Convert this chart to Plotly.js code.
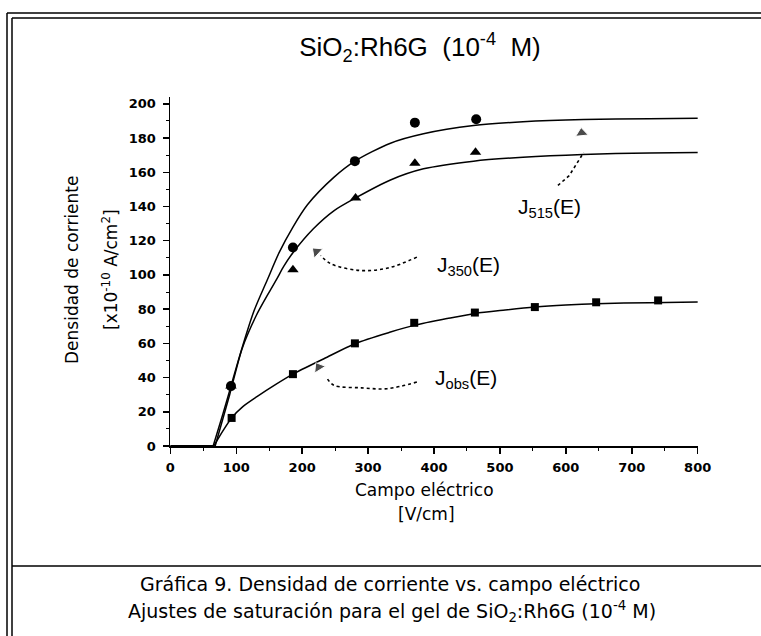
<!DOCTYPE html>
<html>
<head>
<meta charset="utf-8">
<script src="https://cdn.plot.ly/plotly-3.0.1.min.js"></script>
<style>
  html, body { margin: 0; padding: 0; background: #fff; }
  #chart { width: 761px; height: 636px; }
</style>
</head>
<body>
<div id="chart"></div>
<script>
// ---- measured points ----
const circX = [92, 186, 280, 371, 464];
const circY = [35, 116, 166.5, 189, 191];
const triX = [92, 186, 281, 371, 463];
const triY = [35, 103, 145, 165.3, 171.7];
const sqX = [93, 186, 280, 370, 462, 553, 646, 740];
const sqY = [16.4, 42, 60, 72, 78, 81.2, 84, 85.1];

// ---- saturation fit curves ----
const baseX = [0, 66];
const baseY = [0, 0];
const fitCircX = [65, 80, 92, 107, 127, 147, 165, 186, 208, 248, 280, 334, 384, 460, 535, 627, 727, 800];
const fitCircY = [0, 19, 35, 55, 79, 97, 113, 128, 141, 157, 166.5, 177, 182.5, 187.3, 189.5, 190.8, 191.3, 191.6];
const fitTriX = [68, 90, 109, 130, 150, 162, 172, 186, 217, 248, 281, 334, 384, 460, 535, 626, 727, 800];
const fitTriY = [0, 30, 57, 76, 90, 98, 105, 113, 127, 137.5, 145, 155.5, 162, 166.5, 168.8, 170.4, 171.3, 171.6];
const fitSqX = [66, 80, 93, 110, 132, 160, 186, 233, 280, 334, 370, 420, 462, 508, 553, 600, 646, 727, 800];
const fitSqY = [0, 9, 16.4, 23, 29, 36, 42, 51, 59.8, 66.6, 70.5, 74.5, 77.5, 79.5, 81.2, 82.4, 83.2, 83.8, 84.1];

// ---- dotted leaders of the labels and their arrow heads ----
const j350LeadX = [374, 330, 288, 243, 228];
const j350LeadY = [110.4, 104, 102.6, 106.6, 111.4];
const jobsLeadX = [374, 329, 290, 248, 238];
const jobsLeadY = [37.4, 33.5, 34, 35.5, 39.4];
const j515LeadX = [588, 605, 627];
const j515LeadY = [152.3, 158, 171.5];
const j350HeadX = [229, 221.6], j350HeadY = [111, 113.6];
const jobsHeadX = [233, 225], jobsHeadY = [41, 46];
const j515HeadX = [627, 624], j515HeadY = [172, 183];

// ---- tick labels ----
const xTicks = [0, 100, 200, 300, 400, 500, 600, 700, 800];
const yTicks = [0, 20, 40, 60, 80, 100, 120, 140, 160, 180, 200];

const black = '#000';
const lineStyle = {color: black, width: 1.5};
const leadStyle = {color: black, width: 1.6, dash: 'dot'};
const head = {symbol: 'triangle-up', angleref: 'previous', size: [0, 11], color: black};

const traces = [
  {x: baseX, y: baseY, mode: 'lines', line: {color: black, width: 2}},
  {x: fitCircX, y: fitCircY, mode: 'lines', line: Object.assign({shape: 'spline', smoothing: 0.8}, lineStyle)},
  {x: fitTriX, y: fitTriY, mode: 'lines', line: Object.assign({shape: 'spline', smoothing: 0.8}, lineStyle)},
  {x: fitSqX, y: fitSqY, mode: 'lines', line: Object.assign({shape: 'spline', smoothing: 0.8}, lineStyle)},
  {x: circX, y: circY, mode: 'markers', marker: {symbol: 'circle', size: 10, color: black}},
  {x: triX, y: triY, mode: 'markers', marker: {symbol: 'triangle-up', size: 10, color: black}},
  {x: sqX, y: sqY, mode: 'markers', marker: {symbol: 'square', size: 8, color: black}},
  {x: j350LeadX, y: j350LeadY, mode: 'lines', line: Object.assign({shape: 'spline'}, leadStyle)},
  {x: jobsLeadX, y: jobsLeadY, mode: 'lines', line: Object.assign({shape: 'spline'}, leadStyle)},
  {x: j515LeadX, y: j515LeadY, mode: 'lines', line: leadStyle},
  {x: j350HeadX, y: j350HeadY, mode: 'markers', marker: head},
  {x: jobsHeadX, y: jobsHeadY, mode: 'markers', marker: head},
  {x: j515HeadX, y: j515HeadY, mode: 'markers', marker: head}
];

const L = 170, T = 97, W = 528, H = 349;
const px = v => (v - L) / W;          // pixel x -> paper x
const py = v => (T + H - v) / H;      // pixel y -> paper y

const axisFont = {family: 'DejaVu Sans', size: 17, color: black};
const tickFont = {family: 'DejaVu Sans', size: 13, color: black, weight: 'bold'};
const labFont = {family: 'Liberation Sans, Arial, sans-serif', size: 21, color: black};
const capFont = {family: 'DejaVu Sans', size: 19, color: black};

function paperText(x, y, text, font, angle) {
  return {xref: 'paper', yref: 'paper', x: px(x), y: py(y), xanchor: 'center', yanchor: 'middle',
          text: text, textangle: angle || 0, showarrow: false, font: font};
}

const annotations = [
  paperText(72, 270, 'Densidad de corriente', axisFont, -90),
  paperText(110, 270, '[x10<sup>-10</sup> A/cm<sup>2</sup>]', axisFont, -90),
  paperText(424, 490, 'Campo eléctrico', axisFont),
  paperText(426, 514, '[V/cm]', axisFont),
  paperText(390, 584, 'Gráfica 9. Densidad de corriente vs. campo eléctrico', capFont),
  paperText(392, 611, 'Ajustes de saturación para el gel de SiO<sub>2</sub>:Rh6G (10<sup>-4</sup> M)', capFont),
  {x: 524, y: 139.4, xanchor: 'left', yanchor: 'middle', text: 'J<sub>515</sub>(E)', showarrow: false, font: labFont},
  {x: 401, y: 105.4, xanchor: 'left', yanchor: 'middle', text: 'J<sub>350</sub>(E)', showarrow: false, font: labFont},
  {x: 398, y: 39, xanchor: 'left', yanchor: 'middle', text: 'J<sub>obs</sub>(E)', showarrow: false, font: labFont}
];

const frameLine = {color: black, width: 1.5};
const shapes = [
  {type: 'line', xref: 'paper', yref: 'paper', x0: px(7), x1: px(7), y0: py(13), y1: py(636), line: frameLine},
  {type: 'line', xref: 'paper', yref: 'paper', x0: px(12), x1: px(12), y0: py(18), y1: py(636), line: frameLine},
  {type: 'line', xref: 'paper', yref: 'paper', x0: px(7), x1: px(761), y0: py(13), y1: py(13), line: frameLine},
  {type: 'line', xref: 'paper', yref: 'paper', x0: px(12), x1: px(761), y0: py(18), y1: py(18), line: frameLine},
  {type: 'line', xref: 'paper', yref: 'paper', x0: px(12), x1: px(761), y0: py(566), y1: py(566), line: frameLine}
];

const layout = {
  width: 761, height: 636,
  margin: {l: L, r: 761 - L - W, t: T, b: 636 - T - H, pad: 0},
  paper_bgcolor: '#fff', plot_bgcolor: '#fff',
  showlegend: false,
  title: {
    text: 'SiO<sub>2</sub>:Rh6G  (10<sup>-4</sup>  M)',
    font: {family: 'Liberation Sans, Arial, sans-serif', size: 26, color: black},
    xref: 'paper', x: px(420), xanchor: 'center',
    yref: 'container', y: 1 - 47 / 636, yanchor: 'middle'
  },
  xaxis: {
    range: [-0.5, 800.5], tickvals: xTicks, ticktext: xTicks.map(String),
    showline: true, linecolor: black, linewidth: 1.5, mirror: false,
    ticks: 'outside', ticklen: 6, tickwidth: 1.5, tickcolor: black,
    minor: {dtick: 50, ticks: 'outside', ticklen: 3, tickwidth: 1, tickcolor: black},
    showgrid: false, zeroline: false, tickfont: tickFont, ticklabelstandoff: 3
  },
  yaxis: {
    range: [0, 204], tickvals: yTicks, ticktext: yTicks.map(String),
    showline: true, linecolor: black, linewidth: 1.5, mirror: false,
    ticks: 'outside', ticklen: 6, tickwidth: 1.5, tickcolor: black,
    minor: {dtick: 10, ticks: 'outside', ticklen: 3, tickwidth: 1, tickcolor: black},
    showgrid: false, zeroline: false, tickfont: tickFont, ticklabelstandoff: 4
  },
  annotations: annotations,
  shapes: shapes
};

Plotly.newPlot('chart', traces, layout, {staticPlot: true, displayModeBar: false});
</script>
</body>
</html>
